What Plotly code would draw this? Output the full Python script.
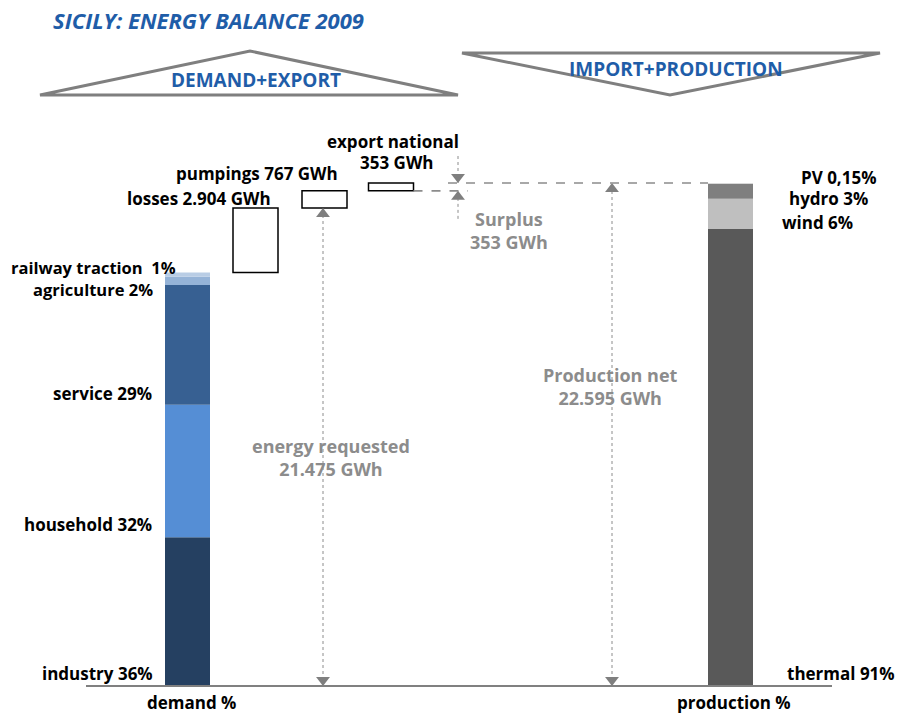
import plotly.graph_objects as go

# ---------------- data ----------------
demand_categories = ["industry", "household", "service", "agriculture", "railway traction"]
demand_shares = [36, 32, 29, 2, 1]  # %
demand_colors = ["#254061", "#558ED5", "#376092", "#95B3D7", "#B9CDE5"]

production_categories = ["thermal", "wind", "hydro", "PV"]
production_shares = [91, 6, 3, 0.15]  # %
production_colors = ["#595959", "#BFBFBF", "#7F7F7F", "#D9D9D9"]

energy_requested = 21475   # GWh (demand + losses)
losses = 2904              # GWh
pumpings = 767             # GWh
export_national = 353      # GWh
surplus = 353              # GWh
production_net = 22595     # GWh

# ---------------- layout helpers ----------------
W, H = 898, 713
BASE_PX, TOP_PX = 686, 183
g = production_net / (BASE_PX - TOP_PX)          # GWh per pixel
y_range = [-(H - BASE_PX) * g, BASE_PX * g]


def py(p):  # paper y from pixel row
    return 1 - p / H


consumption = energy_requested - losses
BAR_W = 45
X_DEMAND, X_LOSS, X_PUMP, X_EXP, X_PROD = 187.5, 255.5, 324.5, 391, 730.5
X_ARROW_REQ, X_ARROW_SURP, X_ARROW_PROD = 323, 458, 612

fig = go.Figure()

# demand stacked bar
base = 0
for cat, share, col in zip(demand_categories, demand_shares, demand_colors):
    v = consumption * share / sum(demand_shares)
    fig.add_trace(go.Bar(x=[X_DEMAND], y=[v], base=[base], width=BAR_W, name=cat,
                         marker=dict(color=col, line=dict(width=0)), showlegend=False,
                         hoverinfo="skip"))
    base += v

# production stacked bar
base = 0
tot = sum(production_shares)
for cat, share, col in zip(production_categories, production_shares, production_colors):
    v = production_net * share / tot
    fig.add_trace(go.Bar(x=[X_PROD], y=[v], base=[base], width=BAR_W, name=cat,
                         marker=dict(color=col, line=dict(width=0)), showlegend=False,
                         hoverinfo="skip"))
    base += v

# waterfall boxes: losses, pumpings, export
flows = [(X_LOSS, losses, consumption),
         (X_PUMP, pumpings, energy_requested),
         (X_EXP, export_national, energy_requested + pumpings)]
for xx, v, b in flows:
    fig.add_trace(go.Bar(x=[xx], y=[v], base=[b], width=BAR_W, showlegend=False,
                         marker=dict(color="white", line=dict(color="black", width=1.5)),
                         hoverinfo="skip"))

GRAY = "#8C8C8C"
ARROW = "#7F7F7F"
level_exp_bottom = energy_requested + pumpings


def vline(x, y0, y1, dash="dot", color=GRAY, width=1):
    fig.add_trace(go.Scatter(x=[x, x], y=[y0, y1], mode="lines", showlegend=False,
                             line=dict(color=color, width=width, dash=dash), hoverinfo="skip"))


def hline(x0, x1, y, dash="dash", color=GRAY, width=1.6):
    fig.add_trace(go.Scatter(x=[x0, x1], y=[y, y], mode="lines", showlegend=False,
                             line=dict(color=color, width=width, dash=dash), hoverinfo="skip"))


MS = 12
r = MS / 2


def tri(x, tip, up=True):
    c = tip - r * g if up else tip + r * g
    fig.add_trace(go.Scatter(x=[x], y=[c], mode="markers", showlegend=False, hoverinfo="skip",
                             marker=dict(symbol="triangle-up" if up else "triangle-down",
                                         size=MS, color=ARROW, line=dict(width=0))))


# energy requested arrow
vline(X_ARROW_REQ, 0, energy_requested)
tri(X_ARROW_REQ, energy_requested, up=True)
tri(X_ARROW_REQ, 0, up=False)
# production net arrow
vline(X_ARROW_PROD, 0, production_net)
tri(X_ARROW_PROD, production_net, up=True)
tri(X_ARROW_PROD, 0, up=False)
# surplus arrows
vline(X_ARROW_SURP, production_net, production_net + 30 * g)
tri(X_ARROW_SURP, production_net, up=False)
vline(X_ARROW_SURP, level_exp_bottom - 28 * g, level_exp_bottom)
tri(X_ARROW_SURP, level_exp_bottom, up=True)
# dashed levels
hline(448, X_PROD - BAR_W / 2, production_net)
hline(X_EXP + BAR_W / 2, 468, level_exp_bottom)

# baseline
fig.add_trace(go.Scatter(x=[86, 832], y=[0, 0], mode="lines", showlegend=False,
                         line=dict(color="#808080", width=2.2), hoverinfo="skip"))

shapes = [
    dict(type="path", xref="x", yref="paper",
         path=f"M 40 {py(95)} L 250 {py(51)} L 458 {py(95)} Z",
         line=dict(color="#7F7F7F", width=3), fillcolor="rgba(0,0,0,0)", layer="below"),
    dict(type="path", xref="x", yref="paper",
         path=f"M 462 {py(53)} L 880 {py(53)} L 670 {py(95)} Z",
         line=dict(color="#7F7F7F", width=3), fillcolor="rgba(0,0,0,0)", layer="below"),
]

FONT = "Open Sans"
BLUE = "#1F5DA8"
ann = []
LS = 17   # black label size
GS = 18   # gray label size


def label(text, x, p, anchor="left", size=LS, color="black", bold=True, italic=False):
    t = f"<b>{text}</b>" if bold else text
    if italic:
        t = f"<i>{t}</i>"
    ann.append(dict(text=t, x=x, y=py(p), xref="x", yref="paper", xanchor=anchor,
                    yanchor="middle", showarrow=False, align="center",
                    font=dict(family=FONT, size=size, color=color)))


label("SICILY: ENERGY BALANCE 2009", 51, 20, "left", 22, BLUE, italic=True)
label("DEMAND+EXPORT", 256, 80, "center", 19, BLUE)
label("IMPORT+PRODUCTION", 676, 69, "center", 19, BLUE)

label(f"{demand_categories[4]}  {demand_shares[4]}%", 178, 267, "right", 16.5)
label(f"{demand_categories[3]} {demand_shares[3]}%", 155, 289, "right", 16.5)
label(f"{demand_categories[2]} {demand_shares[2]}%", 154, 393, "right")
label(f"{demand_categories[1]} {demand_shares[1]}%", 154, 524, "right")
label(f"{demand_categories[0]} {demand_shares[0]}%", 155, 673, "right")
label("demand %", 191, 702, "center")
label("production %", 734, 702, "center")
label(f"{production_categories[0]} {production_shares[0]}%", 897, 673, "right")
label(f"{production_categories[3]} {str(production_shares[3]).replace('.', ',')}%", 878, 177, "right")
label(f"{production_categories[2]} {production_shares[2]}%", 870, 199, "right")
label(f"{production_categories[1]} {production_shares[1]}%", 855, 223, "right")

fmt = lambda v: f"{v:,}".replace(",", ".")
label(f"losses {fmt(losses)} GWh", 273, 199, "right")
label(f"pumpings {fmt(pumpings)} GWh", 340, 173, "right")
label("export national", 461, 142, "right")
label(f"{fmt(export_national)} GWh", 397, 163, "center")
label(f"Surplus<br>{fmt(surplus)} GWh", 509, 230.5, "center", GS, GRAY)
label(f"Production net<br>{fmt(production_net)} GWh", 610, 387, "center", GS, GRAY)
label(f"energy requested<br>{fmt(energy_requested)} GWh", 331, 457.5, "center", GS, GRAY)

fig.update_layout(
    width=W, height=H, margin=dict(l=0, r=0, t=0, b=0),
    paper_bgcolor="white", plot_bgcolor="white",
    xaxis=dict(range=[0, W], visible=False, fixedrange=True),
    yaxis=dict(range=y_range, visible=False, fixedrange=True),
    barmode="overlay", shapes=shapes, annotations=ann,
    font=dict(family=FONT),
)

fig.write_html("out.html")
